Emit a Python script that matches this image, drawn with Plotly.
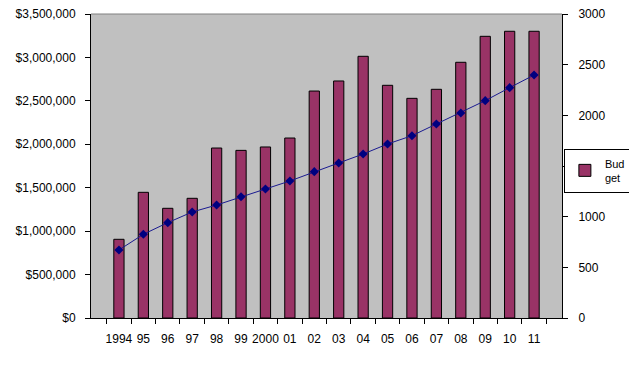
import plotly.graph_objects as go

years = ["1994", "95", "96", "97", "98", "99", "2000", "01", "02", "03",
         "04", "05", "06", "07", "08", "09", "10", "11"]
budget = [906000, 1447000, 1263000, 1378000, 1957000, 1930000, 1969000, 2072000,
          2613000, 2729000, 3013000, 2679000, 2529000, 2633000, 2944000, 3243000,
          3301000, 3301000]
line_vals = [671, 826, 941, 1046, 1115, 1197, 1273, 1352, 1444, 1530,
             1618, 1717, 1799, 1914, 2023, 2145, 2273, 2398]

fig = go.Figure()
fig.add_trace(go.Bar(
    x=years, y=budget, name="Bud<br>get",
    marker=dict(color="#993366", line=dict(color="black", width=1)),
    yaxis="y",
))
fig.add_trace(go.Scatter(
    x=years, y=line_vals, mode="lines+markers", showlegend=False,
    line=dict(color="#1a1a90", width=1),
    marker=dict(symbol="diamond", size=7, color="#000080"),
    yaxis="y2",
))

font = dict(family="Liberation Sans, Arial, sans-serif", size=12, color="black")
fig.update_layout(
    width=629, height=376,
    margin=dict(l=83, r=68, t=6, b=66),
    paper_bgcolor="white", plot_bgcolor="#C0C0C0",
    font=font,
    bargap=0.58,
    xaxis=dict(type="category", showgrid=False, ticks="outside", ticklen=5,
               tickson="boundaries", tickcolor="black", showline=True,
               linecolor="black", linewidth=1, mirror=False, ticklabelstandoff=10,
               tickangle=0, automargin=False, tickfont=font),
    yaxis=dict(range=[0, 3500000], dtick=500000, tickprefix="$", tickformat=",",
               showgrid=False, zeroline=False, ticks="outside", ticklen=5,
               tickcolor="black", showline=True, linecolor="black", linewidth=1,
               automargin=False, ticklabeloverflow="allow", ticklabelstandoff=7,
               tickfont=font),
    yaxis2=dict(range=[0, 3000], dtick=500, overlaying="y", side="right",
                showgrid=False, zeroline=False, ticks="outside", ticklen=5,
                tickcolor="black", showline=True, linecolor="black", linewidth=1,
                automargin=False, ticklabeloverflow="allow", ticklabelstandoff=8,
                tickfont=font),
    legend=dict(x=1.004, xanchor="left", y=0.485, yanchor="middle",
                bgcolor="white", bordercolor="black", borderwidth=1,
                itemwidth=30, tracegroupgap=0,
                font=dict(family="Liberation Sans, Arial, sans-serif", size=11,
                          color="black")),
    shapes=[dict(type="line", xref="paper", yref="paper", x0=0, x1=1, y0=1, y1=1,
                 line=dict(color="#808080", width=1))],
)

fig.write_html("out.html")
